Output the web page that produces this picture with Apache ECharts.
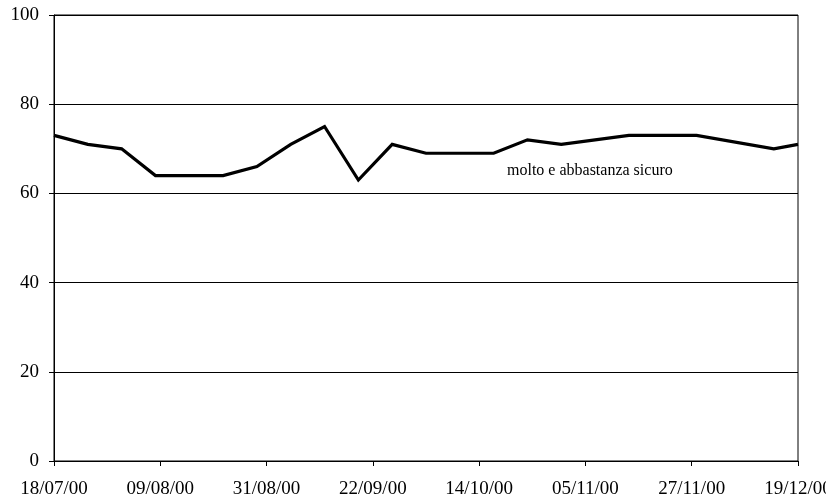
<!DOCTYPE html>
<html>
<head>
<meta charset="utf-8">
<script src="https://cdn.jsdelivr.net/npm/echarts@6/dist/echarts.min.js"></script>
<style>
  html, body { margin: 0; padding: 0; background: #fff; }
  #chart { width: 826px; height: 501px; }
</style>
</head>
<body>
<div id="chart"></div>
<script>
// Survey dates (dd/mm/yy) and share of "molto e abbastanza sicuro" answers
const dates = [
  '18/07/00', '25/07/00', '01/08/00', '08/08/00', '15/08/00', '22/08/00',
  '29/08/00', '05/09/00', '12/09/00', '19/09/00', '26/09/00', '03/10/00',
  '10/10/00', '17/10/00', '24/10/00', '31/10/00', '07/11/00', '14/11/00',
  '21/11/00', '28/11/00', '14/12/00', '19/12/00'
];
const sicuro = [
  73, 71, 70, 64, 64, 64,
  66, 71, 75, 63, 71, 69,
  69, 69, 72, 71, 72, 73,
  73, 73, 70, 71
];
const seriesLabel = 'molto e abbastanza sicuro';
const yTicks = [0, 20, 40, 60, 80, 100];

const DAY = 86400000;
function parseDate(s) {
  const [d, m, y] = s.split('/').map(Number);
  return Date.UTC(2000 + y, m - 1, d);
}
const start = parseDate(dates[0]);
const end = parseDate('19/12/00');
function dayOffset(s) { return Math.round((parseDate(s) - start) / DAY); }
function fmt(offset) {
  const t = new Date(start + offset * DAY);
  const p = n => String(n).padStart(2, '0');
  return p(t.getUTCDate()) + '/' + p(t.getUTCMonth() + 1) + '/' + p(t.getUTCFullYear() % 100);
}

const points = dates.map((d, i) => [dayOffset(d), sicuro[i]]);
const font = '"Liberation Serif", "Times New Roman", serif';

const chart = echarts.init(document.getElementById('chart'), null, { renderer: 'canvas' });
chart.setOption({
  animation: false,
  backgroundColor: '#fff',
  grid: {
    left: 54, right: 28, top: 15, bottom: 40,
    outerBoundsMode: 'none',
    containLabel: false,
    show: true, borderColor: '#000', borderWidth: 1
  },
  xAxis: {
    type: 'value',
    min: 0,
    max: Math.round((end - start) / DAY),
    interval: 22,
    axisLine: { show: true, lineStyle: { color: '#000', width: 1 } },
    axisTick: { show: true, inside: false, length: 5, lineStyle: { color: '#000' } },
    splitLine: { show: false },
    axisLabel: {
      margin: 19,
      color: '#000',
      fontFamily: font,
      fontSize: 19,
      hideOverlap: false,
      alignMinLabel: 'center',
      alignMaxLabel: 'center',
      formatter: v => fmt(v)
    }
  },
  yAxis: {
    type: 'value',
    min: yTicks[0],
    max: yTicks[yTicks.length - 1],
    interval: 20,
    axisLine: { show: true, lineStyle: { color: '#000', width: 1 } },
    axisTick: { show: true, inside: false, length: 5, lineStyle: { color: '#000' } },
    splitLine: { show: true, lineStyle: { color: '#000', width: 1 } },
    axisLabel: {
      margin: 15,
      color: '#000',
      fontFamily: font,
      fontSize: 19
    }
  },
  series: [{
    name: seriesLabel,
    type: 'line',
    data: points,
    symbol: 'none',
    lineStyle: { color: '#000', width: 3.2, join: 'miter' },
    z: 5
  }],
  graphic: [{
    type: 'text',
    left: 507,
    top: 163,
    style: {
      text: seriesLabel,
      fill: '#000',
      font: '16px ' + font
    }
  }]
});
</script>
</body>
</html>
